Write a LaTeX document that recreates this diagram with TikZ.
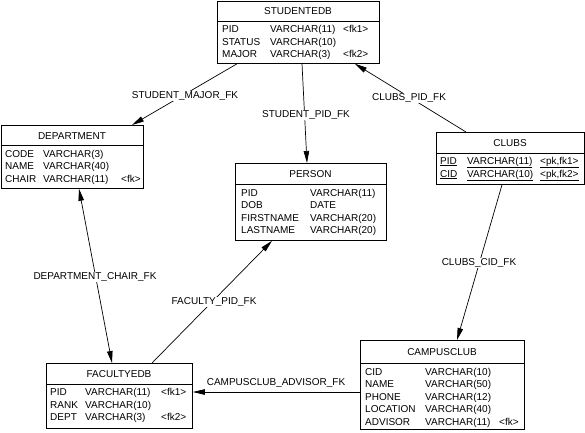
\documentclass[tikz,border=0pt]{standalone}
\usepackage{fontspec}
\setmainfont{Liberation Sans}
\usetikzlibrary{calc,arrows.meta}
\begin{document}
\begin{tikzpicture}[x=1pt,y=-1pt, font=\fontsize{10}{12}\selectfont,
  tbl/.style={draw, line width=0.8pt, anchor=north west, inner sep=0pt},
  hline/.style={line width=0.8pt},
  cell/.style={anchor=base west, inner sep=0pt},
  ttl/.style={anchor=base, inner sep=0pt},
  fk/.style={line width=0.7pt, -{Triangle[length=12pt,width=5.5pt]}},
  fkboth/.style={line width=0.7pt, {Triangle[length=12pt,width=5.5pt]}-{Triangle[length=12pt,width=5.5pt]}},
  lbl/.style={anchor=base, fill=white, inner sep=1pt}]
\useasboundingbox (0,0) rectangle (585,432);

% STUDENTEDB
\node[tbl, minimum width=162pt, minimum height=62pt] (stud) at (217,1) {};
\draw[hline] ($(stud.north west)+(0,20)$) -- ($(stud.north east)+(0,20)$);
\node[ttl] (stud-t) at (298,14.5) {STUDENTEDB};
\node[cell] (stud-a1) at (222,32.5) {PID};
\node[cell] (stud-b1) at (270,32.5) {VARCHAR(11)};
\node[cell] (stud-c1) at (343,32.5) {<fk1>};
\node[cell] (stud-a2) at (222,45) {STATUS};
\node[cell] (stud-b2) at (270,45) {VARCHAR(10)};
\node[cell] (stud-a3) at (222,57.5) {MAJOR};
\node[cell] (stud-b3) at (270,57.5) {VARCHAR(3)};
\node[cell] (stud-c3) at (343,57.5) {<fk2>};

% DEPARTMENT
\node[tbl, minimum width=142pt, minimum height=63pt] (dept) at (1,125) {};
\draw[hline] ($(dept.north west)+(0,20)$) -- ($(dept.north east)+(0,20)$);
\node[ttl] (dept-t) at (72,139) {DEPARTMENT};
\node[cell] (dept-a1) at (5,157) {CODE};
\node[cell] (dept-b1) at (43,157) {VARCHAR(3)};
\node[cell] (dept-a2) at (5,169.5) {NAME};
\node[cell] (dept-b2) at (43,169.5) {VARCHAR(40)};
\node[cell] (dept-a3) at (5,182) {CHAIR};
\node[cell] (dept-b3) at (43,182) {VARCHAR(11)};
\node[cell] (dept-c3) at (121,182) {<fk>};

% PERSON
\node[tbl, minimum width=151pt, minimum height=77pt] (person) at (235,163) {};
\draw[hline] ($(person.north west)+(0,21)$) -- ($(person.north east)+(0,21)$);
\node[ttl] (person-t) at (310.5,177.5) {PERSON};
\node[cell] (person-a1) at (241,196) {PID};
\node[cell] (person-b1) at (310,196) {VARCHAR(11)};
\node[cell] (person-a2) at (241,208.5) {DOB};
\node[cell] (person-b2) at (310,208.5) {DATE};
\node[cell] (person-a3) at (241,221) {FIRSTNAME};
\node[cell] (person-b3) at (310,221) {VARCHAR(20)};
\node[cell] (person-a4) at (241,233.5) {LASTNAME};
\node[cell] (person-b4) at (310,233.5) {VARCHAR(20)};

% CLUBS
\node[tbl, minimum width=148pt, minimum height=52pt] (clubs) at (436,132) {};
\draw[hline] ($(clubs.north west)+(0,21)$) -- ($(clubs.north east)+(0,21)$);
\node[ttl] (clubs-t) at (510,146.5) {CLUBS};
\node[cell] (clubs-a1) at (440,164) {\underline{PID}};
\node[cell] (clubs-b1) at (467,164) {\underline{VARCHAR(11)}};
\node[cell] (clubs-c1) at (540,164) {\underline{<pk,fk1>}};
\node[cell] (clubs-a2) at (440,177) {\underline{CID}};
\node[cell] (clubs-b2) at (467,177) {\underline{VARCHAR(10)}};
\node[cell] (clubs-c2) at (540,177) {\underline{<pk,fk2>}};

% FACULTYEDB
\node[tbl, minimum width=146pt, minimum height=65pt] (fac) at (46,363) {};
\draw[hline] ($(fac.north west)+(0,21)$) -- ($(fac.north east)+(0,21)$);
\node[ttl] (fac-t) at (119,377.5) {FACULTYEDB};
\node[cell] (fac-a1) at (50,395.5) {PID};
\node[cell] (fac-b1) at (85,395.5) {VARCHAR(11)};
\node[cell] (fac-c1) at (161,395.5) {<fk1>};
\node[cell] (fac-a2) at (50,408) {RANK};
\node[cell] (fac-b2) at (85,408) {VARCHAR(10)};
\node[cell] (fac-a3) at (50,420.5) {DEPT};
\node[cell] (fac-b3) at (85,420.5) {VARCHAR(3)};
\node[cell] (fac-c3) at (161,420.5) {<fk2>};

% CAMPUSCLUB
\node[tbl, minimum width=164pt, minimum height=89pt] (camp) at (360,340) {};
\draw[hline] ($(camp.north west)+(0,23)$) -- ($(camp.north east)+(0,23)$);
\node[ttl] (camp-t) at (442,355) {CAMPUSCLUB};
\node[cell] (camp-a1) at (365,375) {CID};
\node[cell] (camp-b1) at (425,375) {VARCHAR(10)};
\node[cell] (camp-a2) at (365,387.5) {NAME};
\node[cell] (camp-b2) at (425,387.5) {VARCHAR(50)};
\node[cell] (camp-a3) at (365,400) {PHONE};
\node[cell] (camp-b3) at (425,400) {VARCHAR(12)};
\node[cell] (camp-a4) at (365,412.5) {LOCATION};
\node[cell] (camp-b4) at (425,412.5) {VARCHAR(40)};
\node[cell] (camp-a5) at (365,425) {ADVISOR};
\node[cell] (camp-b5) at (425,425) {VARCHAR(11)};
\node[cell] (camp-c5) at (499,425) {<fk>};

% connectors
\draw[fk] ($(stud.south west)+(20,0)$) -- ($(dept.north west)+(131,0)$);
\draw[fk] ($(stud.south west)+(85,0)$) -- ($(person.north west)+(72,0)$);
\draw[fk] ($(clubs.north west)+(30,0)$) -- ($(stud.south west)+(138,0)$);
\draw[fk] ($(clubs.south west)+(66,0)$) -- ($(camp.north west)+(97,0)$);
\draw[fkboth] ($(dept.south west)+(78,0)$) -- ($(fac.north west)+(66,0)$);
\draw[fk] ($(fac.north west)+(106,0)$) -- ($(person.south west)+(37,0)$);
\draw[fk] ($(camp.north west)+(0,52)$) -- ($(fac.north east)+(0,29)$);

% labels
\node[lbl] (l1) at (185,98.5) {STUDENT\_MAJOR\_FK};
\node[lbl] (l2) at (306,117.5) {STUDENT\_PID\_FK};
\node[lbl] (l3) at (409,100.5) {CLUBS\_PID\_FK};
\node[lbl] (l4) at (479,265.5) {CLUBS\_CID\_FK};
\node[lbl] (l5) at (95,279.5) {DEPARTMENT\_CHAIR\_FK};
\node[lbl] (l6) at (214,304.5) {FACULTY\_PID\_FK};
\node[lbl] (l7) at (276,385.5) {CAMPUSCLUB\_ADVISOR\_FK};
\end{tikzpicture}
\end{document}
